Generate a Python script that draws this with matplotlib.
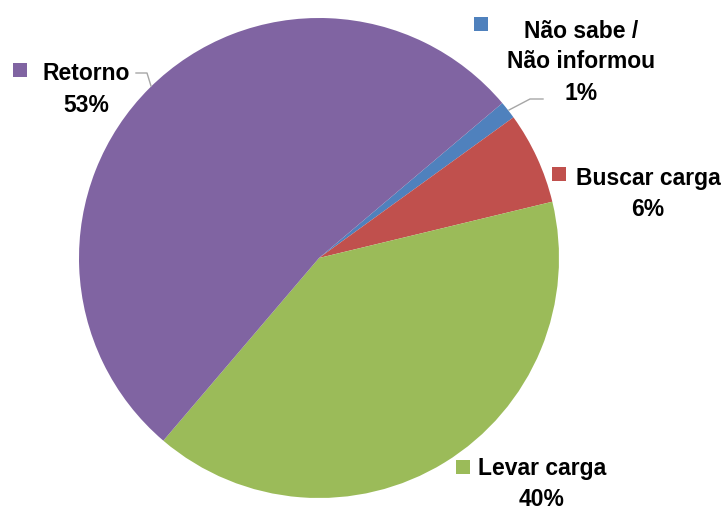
import matplotlib.pyplot as plt

plt.rcParams["font.family"] = ["Liberation Sans", "DejaVu Sans"]

# slices in drawing order (clockwise from the top-right)
labels = ["Não sabe /\nNão informou", "Buscar carga", "Levar carga", "Retorno"]
values = [1.2, 6.2, 40.0, 52.6]
pct_text = ["1%", "6%", "40%", "53%"]
colors = ["#4F81BD", "#C0504D", "#9BBB59", "#8064A2"]

W, H = 724, 514
fig = plt.figure(figsize=(W / 100, H / 100), dpi=100)
ax = fig.add_axes([0, 0, 1, 1])

def py(y):  # pixel row -> data y
    return H - y

ax.pie(values, colors=colors, startangle=40.2, counterclock=False,
       center=(319, py(258)), radius=240, frame=True,
       wedgeprops=dict(linewidth=0))
ax.set_xlim(0, W); ax.set_ylim(0, H)
ax.set_aspect("equal"); ax.axis("off")

# label positions (text centre x, first line y, marker x, marker y)
lab_pos = [(581, 31, 481, 24), (648, 178, 559, 174), (542, 469, 463, 467), (86, 74, 20, 70)]
for lab, pct, col, (tx, ty, mx, my) in zip(labels, pct_text, colors, lab_pos):
    lines = lab.split("\n") + [pct]
    for i, s in enumerate(lines):
        ax.text(tx, py(ty + i * 31), s, ha="center", va="center", fontsize=16.5,
                fontweight="bold", color="black")
    ax.add_patch(plt.Rectangle((mx - 7, py(my + 7)), 14, 14, color=col, lw=0))

# leader lines
ax.plot([136, 147, 151], [py(73), py(73), py(86)], color="#A6A6A6", lw=1)
ax.plot([509, 530, 543], [py(110), py(99), py(99)], color="#A6A6A6", lw=1)

fig.savefig("out.png", dpi=100)
